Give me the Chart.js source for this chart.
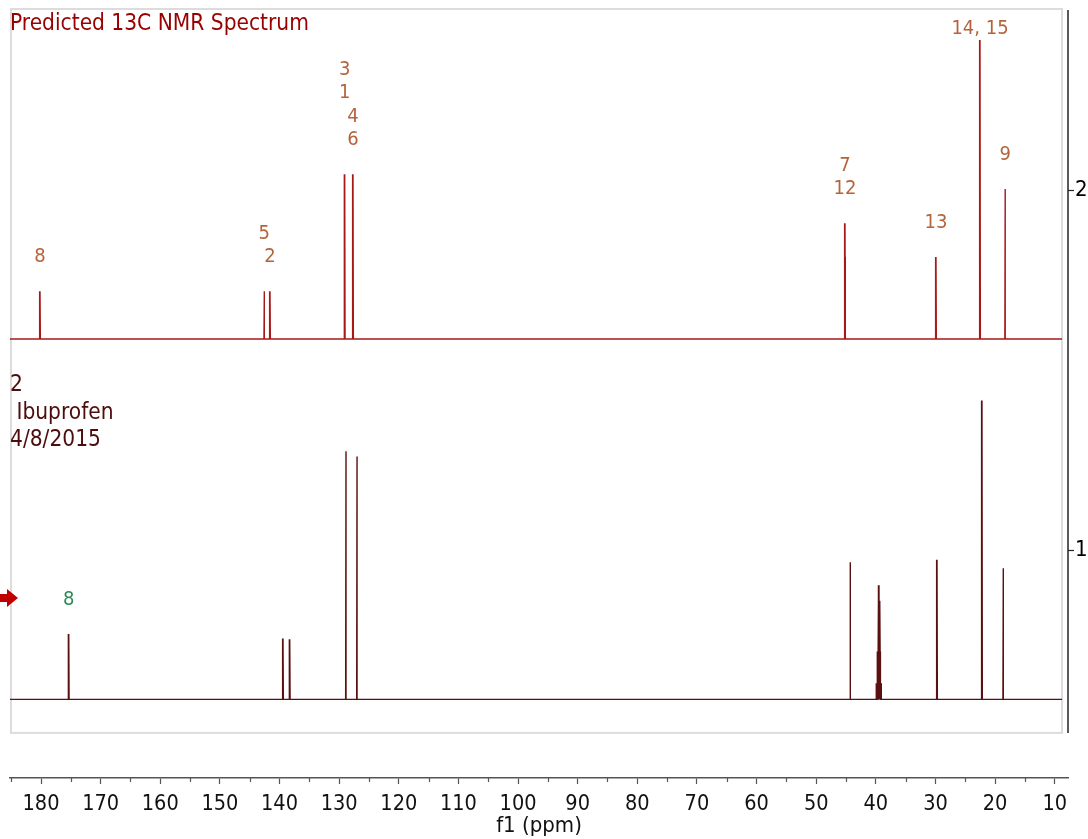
<!DOCTYPE html>
<html>
<head>
<meta charset="utf-8">
<script src="https://cdn.jsdelivr.net/npm/chart.js@4.4.1/dist/chart.umd.min.js"></script>
<style>
  html, body { margin: 0; padding: 0; background: #fff; }
</style>
</head>
<body>
<canvas id="nmr" width="1088" height="839"></canvas>
<script>
// predicted 13C spectrum: shift (ppm) and relative height
const predShifts  = [180.17, 142.55, 141.6, 129.07, 127.68, 45.17, 45.09, 29.91, 22.53, 18.3]
const predHeights = [0.133, 0.133, 0.133, 0.458, 0.458, 0.322, 0.228, 0.228, 0.831, 0.417]
const predLabels      = ["8", "5", "2", "3", "1", "4", "6", "7", "12", "13", "14, 15", "9"]
const predLabelShifts = [180.17, 142.55, 141.6, 129.07, 129.07, 127.68, 127.68, 45.17, 45.17, 29.91, 22.53, 18.3]

// measured spectrum (DMSO septet around 39.5)
const expShifts  = [175.35, 139.42, 138.29, 128.85, 127.0, 44.25,
                    39.86, 39.73, 39.60, 39.47, 39.34, 39.21, 39.08, 29.74, 22.2, 18.62]
const expHeights = [0.182, 0.169, 0.167, 0.689, 0.675, 0.381,
                    0.045, 0.133, 0.274, 0.317, 0.274, 0.133, 0.045, 0.388, 0.830, 0.364]
const expLabels      = ["8"]
const expLabelShifts = [175.35]

// stacking offsets of the two traces
const predOffset = 1.586
const expOffset  = 0.585

const xTicks = [180, 170, 160, 150, 140, 130, 120, 110, 100, 90, 80, 70, 60, 50, 40, 30, 20, 10]
const xMinorTicks = [185, 175, 165, 155, 145, 135, 125, 115, 105, 95, 85, 75, 65, 55, 45, 35, 25, 15]
const yTicks = [1, 2]

const X_LEFT = 185.2, X_RIGHT = 7.77   // axis range
const FRAME_RIGHT = 8.77, FRAME_BOTTOM = 0.492

const FONT = "'DejaVu Sans Condensed', 'Liberation Sans', sans-serif"

function sticks(shifts, heights, offset) {
  const pts = [{ x: FRAME_RIGHT, y: offset }]
  shifts.map((s, i) => [s, heights[i]])
    .sort((a, b) => a[0] - b[0])
    .forEach(([s, h]) => {
      pts.push({ x: s - 0.06, y: offset }, { x: s, y: offset + h }, { x: s + 0.06, y: offset })
    })
  pts.push({ x: X_LEFT, y: offset })
  return pts
}

// peak numbers, stacked above the tallest peak of each cluster
function peakLabels(chart, labels, shifts, pShifts, pHeights, offset, color) {
  const { ctx, scales: { x, y } } = chart
  const groups = []
  labels.forEach((t, i) => {
    const g = groups[groups.length - 1]
    if (g && Math.abs(shifts[i] - shifts[g[g.length - 1]]) < 3) g.push(i)
    else groups.push([i])
  })
  ctx.save()
  ctx.fillStyle = color
  ctx.font = "20px " + FONT
  ctx.textAlign = "center"
  ctx.textBaseline = "middle"
  groups.forEach(g => {
    let hMax = 0
    g.forEach(i => pShifts.forEach((s, k) => {
      if (Math.abs(s - shifts[i]) < 0.5) hMax = Math.max(hMax, pHeights[k])
    }))
    let bottom = y.getPixelForValue(offset + hMax) - 34
    const step = 23.5
    const first = bottom - (g.length - 1) * step
    if (first < 29) bottom += 29 - first
    g.forEach((i, n) => {
      ctx.fillText(labels[i], x.getPixelForValue(shifts[i]), bottom - (g.length - 1 - n) * step)
    })
  })
  ctx.restore()
}

const decor = {
  id: "decor",
  beforeDatasetsDraw(chart) {
    const { ctx, chartArea, scales: { x, y } } = chart
    const right = x.getPixelForValue(FRAME_RIGHT)
    const bottom = y.getPixelForValue(FRAME_BOTTOM)
    ctx.save()
    ctx.strokeStyle = "#dcdcdc"
    ctx.lineWidth = 2
    ctx.strokeRect(chartArea.left + 1, chartArea.top + 1, right - chartArea.left - 1, bottom - chartArea.top - 1)
    // intensity axis line
    ctx.strokeStyle = "#222"
    ctx.lineWidth = 1.5
    ctx.beginPath()
    ctx.moveTo(chartArea.right, chartArea.top + 2)
    ctx.lineTo(chartArea.right, bottom)
    ctx.stroke()
    ctx.restore()
  },
  afterDraw(chart) {
    const { ctx, chartArea, scales: { x } } = chart
    ctx.save()
    // minor ticks on the ppm axis
    ctx.strokeStyle = "#555"
    ctx.lineWidth = 1.2
    xMinorTicks.forEach(v => {
      const px = Math.round(x.getPixelForValue(v)) + 0.5
      ctx.beginPath()
      ctx.moveTo(px, chartArea.bottom)
      ctx.lineTo(px, chartArea.bottom + 4)
      ctx.stroke()
    })

    ctx.textAlign = "left"
    ctx.textBaseline = "middle"
    ctx.font = "22.5px " + FONT
    ctx.fillStyle = "#990000"
    ctx.fillText("Predicted 13C NMR Spectrum", 10, 24)

    ctx.fillStyle = "#4d0d0d"
    ctx.fillText("2", 10, 385)
    ctx.fillText(" Ibuprofen", 10, 413)
    ctx.fillText("4/8/2015", 10, 440)

    // arrow marking the active trace
    ctx.fillStyle = "#c00000"
    ctx.beginPath()
    ctx.moveTo(0, 594)
    ctx.lineTo(7, 594)
    ctx.lineTo(7, 589)
    ctx.lineTo(18, 598)
    ctx.lineTo(7, 607)
    ctx.lineTo(7, 602)
    ctx.lineTo(0, 602)
    ctx.closePath()
    ctx.fill()
    ctx.restore()

    peakLabels(chart, predLabels, predLabelShifts, predShifts, predHeights, predOffset, "#b4643c")
    peakLabels(chart, expLabels, expLabelShifts, expShifts, expHeights, expOffset, "#2e8b57")
  }
}

new Chart(document.getElementById("nmr"), {
  type: "line",
  data: {
    datasets: [
      { data: sticks(predShifts, predHeights, predOffset), borderColor: "#a81818", borderWidth: 1.4 },
      { data: sticks(expShifts, expHeights, expOffset), borderColor: "#5a1010", borderWidth: 1.4 }
    ]
  },
  options: {
    responsive: false,
    animation: false,
    parsing: false,
    normalized: true,
    elements: { point: { radius: 0 }, line: { tension: 0 } },
    layout: { padding: { left: 10, top: 8, right: 0, bottom: 0 } },
    plugins: { legend: { display: false }, tooltip: { enabled: false } },
    scales: {
      x: {
        type: "linear",
        reverse: true,
        min: X_RIGHT,
        max: X_LEFT,
        afterBuildTicks: s => { s.ticks = xTicks.map(v => ({ value: v })) },
        afterFit: s => { s.height = 61; s.paddingLeft = 0; s.paddingRight = 0 },
        grid: { drawOnChartArea: false, tickLength: 6, tickColor: "#555", tickWidth: 1.2 },
        border: { color: "#555", width: 1.5 },
        ticks: { color: "#111", font: { family: FONT, size: 21.5 }, padding: 8, maxRotation: 0, autoSkip: false },
        title: { display: true, text: "f1 (ppm)", color: "#111", font: { family: FONT, size: 22 }, padding: 0 }
      },
      y: {
        position: "right",
        min: 0.3667,
        max: 2.5056,
        afterBuildTicks: s => { s.ticks = yTicks.map(v => ({ value: v })) },
        afterFit: s => { s.width = 20; s.paddingTop = 0; s.paddingBottom = 0 },
        grid: { drawOnChartArea: false, tickLength: 6, tickColor: "#222", tickWidth: 1.2 },
        border: { display: false },
        ticks: { color: "#000", font: { family: FONT, size: 22 }, padding: 1 }
      }
    }
  },
  plugins: [decor]
})
</script>
</body>
</html>
